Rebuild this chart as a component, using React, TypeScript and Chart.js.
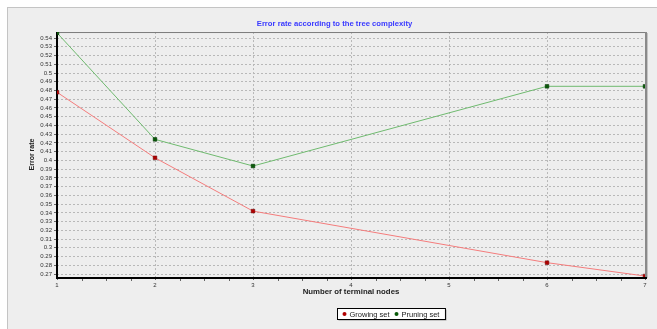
import React, { useEffect, useRef } from "react";
import { Chart, registerables } from "chart.js";

Chart.register(...registerables);

// ---- data ----
const nodes = [1, 2, 3, 6, 7];
const growingSet = [0.478, 0.403, 0.342, 0.283, 0.2677];
const pruningSet = [0.546, 0.4241, 0.3936, 0.4848, 0.4848];
const seriesLabels = ["Growing set", "Pruning set"];
const titleText = "Error rate according to the tree complexity";
const xTitleText = "Number of terminal nodes";
const yTitleText = "Error rate";

const FONT = "'Liberation Sans', Arial, sans-serif";

const framePlugin = {
  id: "frame",
  beforeDatasetsDraw(chart: any) {
    const { ctx, chartArea: a, scales } = chart;
    ctx.save();
    // top border
    ctx.strokeStyle = "#7a7a7a";
    ctx.lineWidth = 1;
    ctx.beginPath();
    ctx.moveTo(a.left, a.top + 0.5);
    ctx.lineTo(a.right, a.top + 0.5);
    ctx.stroke();
    // right border
    ctx.strokeStyle = "#8a8a8a";
    ctx.lineWidth = 2;
    ctx.beginPath();
    ctx.moveTo(a.right + 1, a.top);
    ctx.lineTo(a.right + 1, a.bottom);
    ctx.stroke();
    ctx.strokeStyle = "#c4c4c4";
    ctx.lineWidth = 1;
    ctx.beginPath();
    ctx.moveTo(a.right + 2.5, a.top + 1);
    ctx.lineTo(a.right + 2.5, a.bottom + 1);
    ctx.stroke();
    // solid black axis lines (left and bottom)
    ctx.strokeStyle = "#000";
    ctx.lineWidth = 2;
    ctx.setLineDash([]);
    ctx.beginPath();
    ctx.moveTo(a.left, a.top);
    ctx.lineTo(a.left, a.bottom + 1);
    ctx.lineTo(a.right + 2, a.bottom + 1);
    ctx.stroke();
    // minor ticks on x axis
    const xs = scales.x;
    ctx.strokeStyle = "#666";
    ctx.lineWidth = 1;
    for (let v = xs.min; v <= xs.max + 1e-9; v += 0.25) {
      if (Math.abs(v - Math.round(v)) < 1e-6) continue;
      const px = Math.round(xs.getPixelForValue(v)) + 0.5;
      ctx.beginPath();
      ctx.moveTo(px, a.bottom + 2);
      ctx.lineTo(px, a.bottom + 4);
      ctx.stroke();
    }
    ctx.restore();
  },
};

const legendBoxPlugin = {
  id: "legendBox",
  afterDraw(chart: any) {
    const { ctx } = chart;
    const ds = chart.data.datasets;
    ctx.save();
    ctx.font = `7.5px ${FONT}`;
    const widths = ds.map((d: any) => ctx.measureText(d.label).width);
    const itemW = widths.map((w: number) => 4 + 3 + w);
    const gap = 5;
    const total = itemW.reduce((s: number, w: number) => s + w, 0) + gap * (ds.length - 1) + 11;
    const cx = 383;
    const boxL = Math.round(cx - total / 2) + 0.5;
    const boxT = 300.5;
    const boxH = 11;
    ctx.fillStyle = "#9a9a9a";
    ctx.fillRect(boxL + 1, boxT + 1, total, boxH);
    ctx.fillStyle = "#ffffff";
    ctx.fillRect(boxL, boxT, total, boxH);
    ctx.strokeStyle = "#000";
    ctx.lineWidth = 1;
    ctx.strokeRect(boxL, boxT, total, boxH);
    let x = boxL + 5;
    const cy = boxT + boxH / 2;
    ds.forEach((d: any, i: number) => {
      ctx.fillStyle = d.pointBackgroundColor;
      ctx.beginPath();
      ctx.arc(x + 2, cy, 2, 0, Math.PI * 2);
      ctx.fill();
      ctx.fillStyle = "#222";
      ctx.textBaseline = "middle";
      ctx.textAlign = "left";
      ctx.fillText(d.label, x + 7, cy + 0.5);
      x += itemW[i] + gap;
    });
    ctx.restore();
  },
};

export default function App() {
  const ref = useRef<HTMLCanvasElement | null>(null);

  useEffect(() => {
    if (!ref.current) return;
    const chart = new Chart(ref.current, {
      type: "line",
      data: {
        datasets: [
          {
            label: seriesLabels[0],
            data: nodes.map((n, i) => ({ x: n, y: growingSet[i] })),
            borderColor: "#f47c7c",
            backgroundColor: "#f47c7c",
            borderWidth: 1,
            pointStyle: "rect",
            pointRadius: 2.6,
            pointBackgroundColor: "#b00000",
            pointBorderColor: "#6a0000",
            pointBorderWidth: 0.5,
            tension: 0,
          },
          {
            label: seriesLabels[1],
            data: nodes.map((n, i) => ({ x: n, y: pruningSet[i] })),
            borderColor: "#6fba6f",
            backgroundColor: "#6fba6f",
            borderWidth: 1,
            pointStyle: "rect",
            pointRadius: 2.6,
            pointBackgroundColor: "#0a5a0a",
            pointBorderColor: "#003300",
            pointBorderWidth: 0.5,
            tension: 0,
          },
        ],
      },
      options: {
        animation: false,
        responsive: false,
        devicePixelRatio: 1,
        layout: { padding: { left: 16, right: 13, top: 0, bottom: 32 } },
        plugins: {
          legend: { display: false },
          tooltip: { enabled: false },
          title: {
            display: true,
            text: titleText,
            color: "#3a3aff",
            font: { family: FONT, size: 7.7, weight: "bold", lineHeight: 1.2 },
            padding: { top: 11.4, bottom: 3.4 },
          },
        },
        scales: {
          x: {
            type: "linear",
            min: 1,
            max: 7,
            afterFit: (s: any) => {
              s.height = 20;
            },
            ticks: {
              stepSize: 1,
              color: "#333",
              font: { family: FONT, size: 6 },
              padding: 2,
              maxRotation: 0,
              autoSkip: false,
            },
            grid: {
              color: "#b8b8b8",
              lineWidth: 1,
              tickLength: 3,
              tickColor: "#666",
            },
            border: { display: false, dash: [2, 2] },
            title: {
              display: true,
              text: xTitleText,
              color: "#222",
              font: { family: FONT, size: 7.8, weight: "bold", lineHeight: 1.2 },
              padding: { top: 0, bottom: 0 },
            },
          },
          y: {
            type: "linear",
            min: 0.2666,
            max: 0.5469,
            afterFit: (s: any) => {
              s.width = 33;
            },
            ticks: {
              stepSize: 0.01,
              includeBounds: false,
              autoSkip: false,
              color: "#333",
              font: { family: FONT, size: 6 },
              padding: 2,
              callback: (v: any) => String(parseFloat(Number(v).toFixed(2))),
            },
            grid: {
              color: "#b8b8b8",
              lineWidth: 1,
              tickLength: 3,
              tickColor: "#666",
            },
            border: { display: false, dash: [2, 2] },
            title: {
              display: true,
              text: yTitleText,
              color: "#222",
              font: { family: FONT, size: 7, weight: "bold", lineHeight: 1.2 },
              padding: { top: 4, bottom: 0 },
            },
          },
        },
      },
      plugins: [framePlugin, legendBoxPlugin],
    } as any);
    return () => chart.destroy();
  }, []);

  return (
    <div
      style={{
        position: "fixed",
        left: 7,
        top: 7,
        width: 650,
        height: 322,
        background: "#eeeeee",
        borderTop: "1px solid #c4c4c4",
        borderLeft: "1px solid #c4c4c4",
      }}
    >
      <canvas ref={ref} width={650} height={321} style={{ display: "block" }} />
    </div>
  );
}
